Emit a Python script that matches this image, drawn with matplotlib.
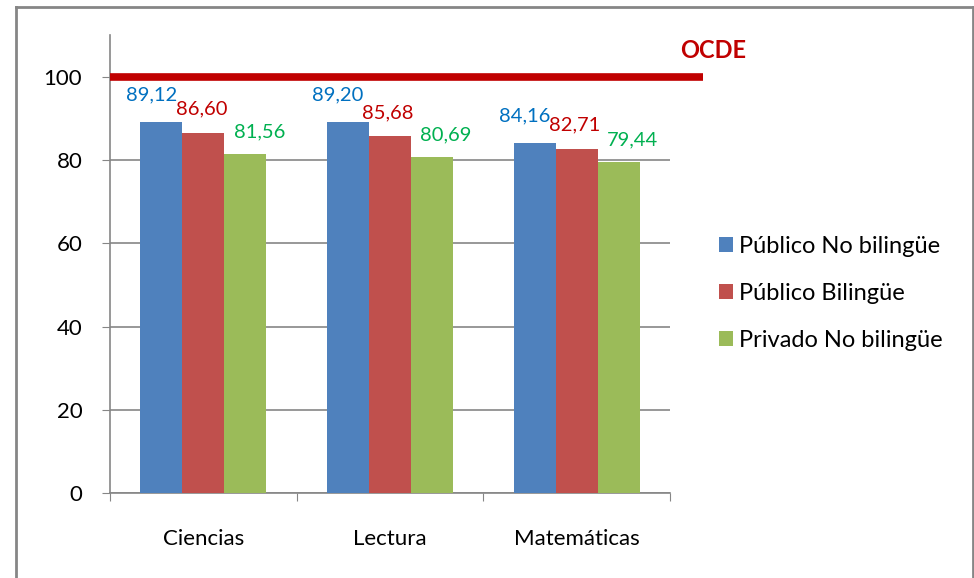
import numpy as np
import matplotlib.pyplot as plt
from matplotlib.lines import Line2D

plt.rcParams['font.family'] = ['Lato', 'DejaVu Sans']

categorias = ["Ciencias", "Lectura", "Matemáticas"]
series = ["Público No bilingüe", "Público Bilingüe", "Privado No bilingüe"]
publico_no_bil = [89.12, 89.20, 84.16]
publico_bil = [86.60, 85.68, 82.71]
privado_no_bil = [81.56, 80.69, 79.44]
ocde = 100

valores = [publico_no_bil, publico_bil, privado_no_bil]
colores_barra = ["#4F81BD", "#C0504D", "#9BBB59"]
colores_texto = ["#0070C0", "#C00000", "#00B050"]
# desplazamiento de las etiquetas (como en el original de Excel)
dx = [-0.055, -0.01, 0.075]
dy = [5.2, 4.4, 4.0]

fig = plt.figure(figsize=(9.74, 5.78), dpi=100)
ax = fig.add_axes([0.113, 0.147, 0.575, 0.792])

x = np.arange(len(categorias))
ancho = 0.225
for i, (vals, col, tcol, nombre) in enumerate(zip(valores, colores_barra, colores_texto, series)):
    pos = x + (i - 1) * ancho
    ax.bar(pos, vals, width=ancho, color=col, label=nombre, zorder=3)
    for px, v in zip(pos, vals):
        etiqueta = f"{v:.2f}".replace(".", ",")
        ax.text(px + dx[i], v + dy[i], etiqueta, color=tcol, fontsize=14.5,
                ha="center", va="baseline", zorder=4)

# linea OCDE
ax.plot([-0.5, 2.675], [ocde, ocde], color="#C00000", lw=5.5, clip_on=False,
        solid_capstyle="butt", zorder=5)
ax.text(2.555, ocde + 3.6, "OCDE", color="#C00000", fontsize=17, fontweight="bold",
        ha="left", va="bottom")

ax.set_xlim(-0.5, 2.5)
ax.set_ylim(0, 110)
ax.set_yticks(range(0, 101, 20))
ax.tick_params(axis="y", labelsize=16, length=6, color="#868686", pad=14)
ax.set_xticks([-0.5, 0.5, 1.5, 2.5])
ax.set_xticklabels([])
ax.set_xticks(x, minor=True)
ax.set_xticklabels(categorias, minor=True)
ax.tick_params(axis="x", which="major", length=6, color="#868686", direction="out")
ax.tick_params(axis="x", which="minor", length=0, labelsize=16, pad=26)
ax.grid(axis="y", color="#868686", lw=1.2, zorder=0)
for s in ["top", "right"]:
    ax.spines[s].set_visible(False)
for s in ["left", "bottom"]:
    ax.spines[s].set_color("#868686")
    ax.spines[s].set_linewidth(1.2)

ax.legend(loc="center left", bbox_to_anchor=(0.716, 0.493), bbox_transform=fig.transFigure,
          frameon=False, fontsize=17, handlelength=0.6, handleheight=0.6,
          handletextpad=0.25, labelspacing=1.1)

# marco del grafico
fig.add_artist(Line2D([16/974, 16/974], [0, 1 - 7/578], color="#868686", lw=2))
fig.add_artist(Line2D([16/974, 1], [1 - 7/578, 1 - 7/578], color="#868686", lw=2))
fig.add_artist(Line2D([973/974, 973/974], [0, 1 - 7/578], color="#868686", lw=2))

fig.savefig("out.png", dpi=100)
